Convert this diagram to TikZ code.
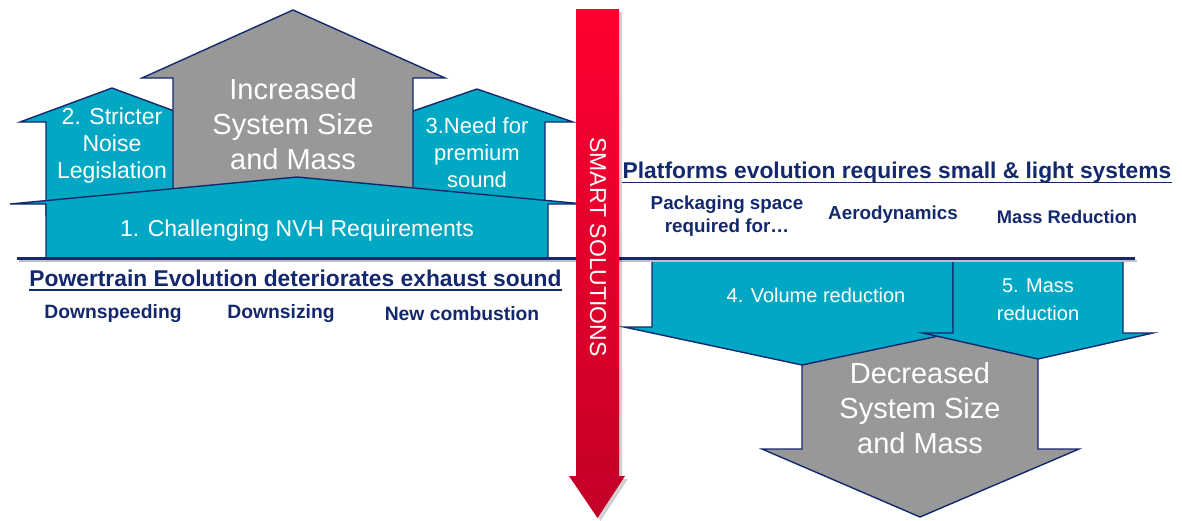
\documentclass[tikz,border=0pt]{standalone}
\usepackage{fontspec}
\setmainfont{Liberation Sans}
\definecolor{tealF}{RGB}{0,168,196}
\definecolor{navy}{RGB}{20,40,110}
\definecolor{grayA}{RGB}{152,152,152}
\definecolor{redT}{RGB}{255,0,48}
\definecolor{redB}{RGB}{196,0,40}
\begin{document}
\begin{tikzpicture}[x=1pt,y=-1pt,
  outl/.style={draw=navy, line width=1.4pt, line join=miter},
  tealshape/.style={outl, fill=tealF},
  grayshape/.style={outl, fill=grayA},
  intext/.style={text=white, align=center, inner sep=0pt},
  bigtxt/.style={intext, font=\fontsize{29}{35}\selectfont},
  midtxt/.style={intext, font=\fontsize{23}{27}\selectfont},
  smtxt/.style={intext, font=\fontsize{20}{28}\selectfont},
  title/.style={text=navy, inner sep=0pt, font=\bfseries\fontsize{22.8}{26}\selectfont},
  lbl/.style={text=navy, inner sep=0pt, align=center, font=\bfseries\fontsize{19.3}{23}\selectfont},
  ulin/.style={draw=navy, line width=1.8pt}]
\useasboundingbox (0,0) rectangle (1182,520);

% ---------- left: upward arrows ----------
\path[tealshape] (112,88) -- (204,122) -- (180,122) -- (180,215) -- (46,215) -- (46,122) -- (20,122) -- cycle;
\path[tealshape] (477,89) -- (573,122) -- (545,122) -- (545,230) -- (405,230) -- (405,122) -- (381,122) -- cycle;
\path[grayshape] (293,10) -- (445,78) -- (413,78) -- (413,230) -- (173,230) -- (173,78) -- (142,78) -- cycle;
\path[tealshape] (297,177) -- (584,204) -- (548,204) -- (548,258) -- (46,258) -- (46,204) -- (10,204) -- cycle;

\node[bigtxt] (inc) at (293,124) {Increased\\System Size\\and Mass};
\node[midtxt] (nois) at (112,146) {2. Stricter\\Noise\\Legislation};
\node[midtxt, font=\fontsize{22}{27}\selectfont] (prem) at (477,153) {3.Need for\\premium\\sound};
\node[midtxt] (nvh) at (297,231) {1. Challenging NVH Requirements};

% ---------- right: downward arrows ----------
\path[grayshape] (802,300) -- (1038,300) -- (1038,449) -- (1079,449) -- (920,517) -- (762,449) -- (802,449) -- cycle;
\path[tealshape] (652,259) -- (953,259) -- (953,327) -- (981,327) -- (802,365) -- (624,327) -- (652,327) -- cycle;
\path[tealshape] (953,259) -- (1123,259) -- (1123,333) -- (1153,333) -- (1038,359) -- (923,333) -- (953,333) -- cycle;

\node[smtxt] (vol) at (816,295) {4. Volume reduction};
\node[smtxt] (mass) at (1038,300) {5. Mass\\reduction};
\node[bigtxt] (dec) at (920,408) {Decreased\\System Size\\and Mass};

% ---------- base line ----------
\draw[black!25, line width=2pt] (19,261) -- (1137,261);
\draw[navy, line width=3pt] (17,258) -- (1135,258);

% ---------- titles and labels ----------
\node[title, anchor=base] (pt) at (295.5,286) {Powertrain Evolution deteriorates exhaust sound};
\draw[ulin] ([yshift=-4pt]pt.base west) -- ([yshift=-4pt]pt.base east);
\node[lbl] (dsp) at (113,314) {Downspeeding};
\node[lbl] (dsz) at (281,314) {Downsizing};
\node[lbl] (ncb) at (462,314) {New combustion};

\node[title, anchor=base] (pf) at (897,178) {Platforms evolution requires small \& light systems};
\draw[ulin] ([yshift=-4.5pt]pf.base west) -- ([yshift=-4.5pt]pf.base east);
\node[lbl, font=\bfseries\fontsize{18.8}{23}\selectfont] (pack) at (727,216) {Packaging space\\required for…};
\node[lbl, font=\bfseries\fontsize{18.8}{23}\selectfont] (aero) at (893,215) {Aerodynamics};
\node[lbl, font=\bfseries\fontsize{18.3}{23}\selectfont] (mred) at (1067,217) {Mass Reduction};

% ---------- red arrow ----------
\path[fill=black, opacity=0.18] (579,12) -- (622,12) -- (622,479) -- (628,479) -- (600.5,521) -- (572,479) -- (579,479) -- cycle;
\path[top color=redT, bottom color=redB] (576,9) -- (619,9) -- (619,476) -- (625,476) -- (597.5,518) -- (569,476) -- (576,476) -- cycle;
\node[intext, rotate=-90, font=\fontsize{23}{27}\selectfont] (smart) at (598,247) {SMART SOLUTIONS};
\end{tikzpicture}
\end{document}
